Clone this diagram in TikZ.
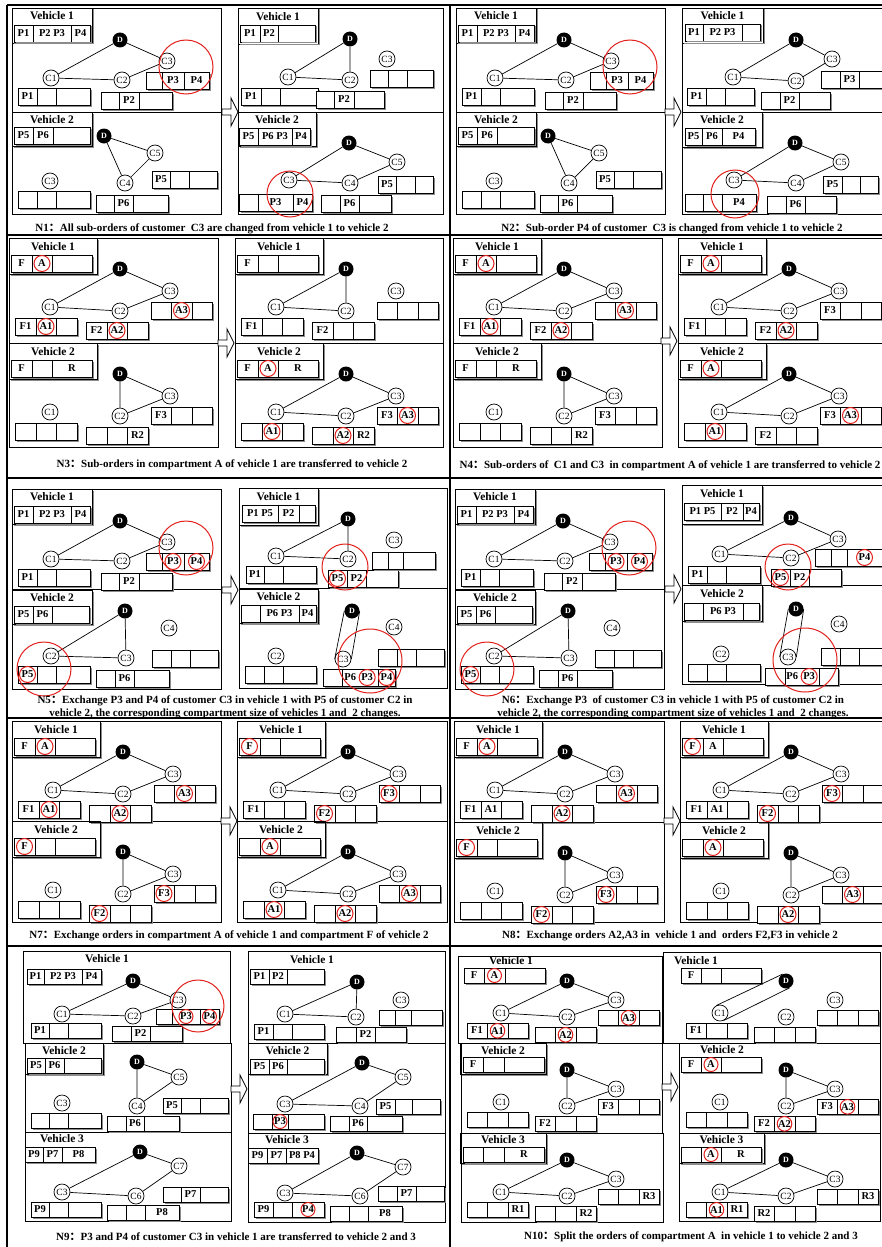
\documentclass[tikz,border=0pt]{standalone}
\usepackage{fontspec}
\setmainfont{Liberation Serif}
\newfontfamily\cjk{Noto Sans CJK SC}
\definecolor{MarkRed}{HTML}{E3211C}
\definecolor{ShadeGray}{HTML}{8C8C8C}

% red ring round one order label
\newcommand\hitlbl[1]{\tikz[baseline=(h.base)]\node[hit] (h) {#1};}
% three compartments: x, y, three widths, three labels
\newcommand\obar[8]{%
  \node[cell,minimum width=#3pt,anchor=north west] (k1) at (#1,#2) {#6};
  \node[cell,minimum width=#4pt,anchor=north west] (k2) at (k1.north east) {#7};
  \node[cell,minimum width=#5pt,anchor=north west] (k3) at (k2.north east) {#8};
  \draw[edgeshade] ([shift={(1pt,-1.5pt)}]k3.north east) -- ([shift={(1pt,-1pt)}]k3.south east) -- ([shift={(1.5pt,-1pt)}]k1.south west);}
\newcommand\vtitle[3]{%
  \draw[vframe] (0,0) rectangle (#2,#3);
  \draw[edgeshade] (#2+1,1.5) -- (#2+1,#3+1) -- (1.5,#3+1);
  \node[vname] (vt) at (#2/2,#3*0.23) {Vehicle #1};}
\newcommand\ftitle[2]{\vtitle{#1}{88}{36}\obar{2}{17}{21}{20}{40}#2}
% compartment layout, two vehicles per state
\newcommand\flay[5]{#1
  \node[depot] (d) at (111,31) {D};
  \node[cust] (c1) at (41,69) {C1};
  \node[cust] (c2) at (111,73) {C2};
  \node[cust] (c3) at (161,53) {C3};
  \obar{6}{80}{21}{20}{21}#2
  \obar{77}{84}{21}{20}{21}#3
  \obar{142}{64}{20}{21}{20}#4
  \draw[route] #5;}
% compartment layout, three vehicles per state
\newcommand\flayc[5]{#1
  \node[depot] (d) at (107,27) {D};
  \node[cust] (c1) at (41,59) {C1};
  \node[cust] (c2) at (107,63) {C2};
  \node[cust] (c3) at (156,46) {C3};
  \obar{7}{69}{20}{21}{20}#2
  \obar{75}{73}{20}{21}{20}#3
  \obar{138}{56}{20}{21}{20}#4
  \draw[route] #5;}
\newcommand\pvone[2]{%
  \vtitle{1}{80}{35}
  \obar{2}{17}{19}{38}{19}{P1}{P2 P3}{P4}
  \node[depot] (d) at (108,32) {D};
  \node[cust] (c1) at (39,70) {C1};
  \node[cust] (c2) at (110,72) {C2};
  \node[cust] (c3) at (155,53) {C3};
  \obar{6}{80}{19}{19}{34}{P1}{}{}
  \obar{89}{84}{18}{20}{33}{}{P2}{}
  \obar{134}{64}{16}{22}{25}{}{#1}{#2}
  \draw[route] (d)--(c1)--(c2)--(c3)--(d);
  \draw[hot] (174,59) circle (27);}
\newcommand\stateOne{%
  \draw[vframe] (12,8) rectangle (221,214) (12,112) -- (221,112);
  \begin{scope}[shift={(12,8)}]\pvone{P3}{P4}\end{scope}
  \begin{scope}[shift={(12,112)}]
    \vtitle{2}{80}{34}
    \obar{2}{15}{19}{20}{37}{P5}{P6}{}
    \node[depot] (d) at (92,24) {D};
    \node[cust] (c3) at (38,69) {C3};
    \node[cust] (c4) at (113,71) {C4};
    \node[cust] (c5) at (143,41) {C5};
    \obar{6}{79}{19}{19}{34}{}{}{}
    \obar{84}{83}{18}{19}{35}{}{P6}{}
    \obar{140}{59}{18}{19}{28}{P5}{}{}
    \draw[route] (d)--(c4)--(c5)--(d);
  \end{scope}}
\newcommand\stateThree{%
  \draw[vframe] (9,238) rectangle (218,447) (9,343) -- (218,343);
  \begin{scope}[shift={(9,238)}]
    \flay{\ftitle{1}{{F}{\hitlbl{A}}{}}}{{F1}{\hitlbl{A1}}{}}{{F2}{\hitlbl{A2}}{}}{{}{\hitlbl{A3}}{}}{(d)--(c1)--(c2)--(c3)--(d)}
  \end{scope}
  \begin{scope}[shift={(9,343)}]
    \flay{\ftitle{2}{{F}{}{R}}}{{}{}{}}{{}{}{R2}}{{F3}{}{}}{(d)--(c2)--(c3)--(d)}
  \end{scope}}
\newcommand\stateFive{%
  \draw[vframe] (12,489) rectangle (221,689) (12,589) -- (221,589);
  \begin{scope}[shift={(12,489)}]\pvone{\hitlbl{P3}}{\hitlbl{P4}}\end{scope}
  \begin{scope}[shift={(12,590)}]
    \vtitle{2}{80}{34}
    \obar{2}{16}{19}{19}{37}{P5}{P6}{}
    \node[depot] (d) at (113,21) {D};
    \node[cust] (c2) at (39,66) {C2};
    \node[cust] (c3) at (114,68) {C3};
    \node[cust] (c4) at (157,38) {C4};
    \obar{6}{76}{19}{19}{34}{\hitlbl{P5}}{}{}
    \obar{84}{80}{19}{19}{35}{}{P6}{}
    \obar{140}{60}{19}{19}{28}{}{}{}
    \draw[route] (d)--(c2)--(c3)--(d);
    \draw[hot] (32,79) circle (27);
  \end{scope}}
\newcommand\blockarrow[2]{\draw[blockarr] (#1,#2-3) -- (#1+9,#2-3) -- (#1+9,#2-14) -- (#1+16,#2) -- (#1+9,#2+14) -- (#1+9,#2+3) -- (#1,#2+3) -- cycle;}

\begin{document}
\begin{tikzpicture}[x=1pt,y=-1pt]
  \tikzset{frame/.style={line width=1.6pt},
    vframe/.style={draw,line width=0.9pt},
    edgeshade/.style={draw=ShadeGray,line width=1pt},
    cell/.style={draw,fill=white,line width=0.8pt,minimum height=17pt,inner sep=0pt,outer sep=0pt,font=\bfseries\fontsize{10.5}{10.5}\selectfont},
    cust/.style={circle,draw,fill=white,line width=0.7pt,minimum size=16pt,inner sep=0pt,font=\fontsize{9.5}{9.5}\selectfont},
    depot/.style={circle,fill=black,minimum size=15pt,inner sep=0pt,text=white,font=\bfseries\fontsize{8}{8}\selectfont},
    hit/.style={circle,draw=MarkRed,fill=none,line width=1pt,minimum size=16pt,inner sep=0pt,anchor=center},
    hot/.style={draw=MarkRed,line width=1pt},
    route/.style={line width=0.7pt},
    vname/.style={font=\bfseries\fontsize{11.5}{12}\selectfont},
    capt/.style={font=\bfseries\fontsize{11}{13}\selectfont,align=center},
    blockarr/.style={draw,fill=white,line width=0.8pt}}
  \useasboundingbox (0,0) rectangle (882,1247);
  \fill[white] (0,0) rectangle (882,1247);
  \clip (0,0) rectangle (882,1247);
  \draw[frame] (7,5) -- (882,5) (7,235) -- (882,235) (7,478) -- (882,478) (7,718) -- (882,718) (7,946) -- (882,946)
    (7,5) -- (7,1247) (450,5) -- (450,1247);

  % N1 and N2
  \stateOne
  \begin{scope}[shift={(444,0)}]\stateOne\end{scope}
  \draw[vframe] (238,8) rectangle (443,214) (238,112) -- (443,112);
  \begin{scope}[shift={(238,8)}]
    \vtitle{1}{80}{36}
    \obar{2}{17}{20}{18}{37}{P1}{P2}{}
    \node[depot] (d) at (112,31) {D};
    \node[cust] (c1) at (50,69) {C1};
    \node[cust] (c2) at (112,72) {C2};
    \node[cust] (c3) at (149,51) {C3};
    \obar{3}{80}{20}{19}{38}{P1}{}{}
    \obar{78}{83}{18}{20}{30}{}{P2}{}
    \obar{132}{62}{18}{19}{26}{}{}{}
    \draw[route] (d)--(c1)--(c2)--(d);
  \end{scope}
  \begin{scope}[shift={(238,112)}]
    \vtitle{2}{78}{34}
    \obar{1}{16}{19}{34}{18}{P5}{P6 P3}{P4}
    \node[depot] (d) at (111,31) {D};
    \node[cust] (c3) at (51,68) {C3};
    \node[cust] (c4) at (112,71) {C4};
    \node[cust] (c5) at (159,50) {C5};
    \obar{1}{82}{19}{35}{19}{}{P3}{P4}
    \obar{83}{83}{19}{19}{32}{}{P6}{}
    \obar{140}{64}{18}{19}{18}{P5}{}{}
    \draw[route] (d)--(c3)--(c4)--(c5)--(d);
    \draw[hot] (52,82) circle (23);
  \end{scope}
  \draw[vframe] (682,8) rectangle (900,214) (682,112) -- (900,112);
  \begin{scope}[shift={(682,8)}]
    \vtitle{1}{81}{35}
    \obar{3}{16}{18}{39}{18}{P1}{P2 P3}{}
    \node[depot] (d) at (114,32) {D};
    \node[cust] (c1) at (51,69) {C1};
    \node[cust] (c2) at (114,73) {C2};
    \node[cust] (c3) at (150,51) {C3};
    \obar{5}{80}{19}{19}{29}{P1}{}{}
    \obar{79}{84}{19}{19}{31}{}{P2}{}
    \obar{139}{63}{19}{19}{30}{}{P3}{}
    \draw[route] (d)--(c1)--(c2)--(c3)--(d);
  \end{scope}
  \begin{scope}[shift={(682,112)}]
    \vtitle{2}{80}{35}
    \obar{3}{16}{17}{20}{33}{P5}{P6}{P4}
    \node[depot] (d) at (113,31) {D};
    \node[cust] (c3) at (52,68) {C3};
    \node[cust] (c4) at (114,71) {C4};
    \node[cust] (c5) at (159,50) {C5};
    \obar{3}{82}{18}{19}{34}{}{}{P4}
    \obar{85}{84}{19}{19}{31}{}{P6}{}
    \obar{141}{64}{19}{18}{18}{P5}{}{}
    \draw[route] (d)--(c3)--(c4)--(c5)--(d);
    \draw[hot] (53,82) circle (24);
  \end{scope}

  % N3 and N4
  \stateThree
  \begin{scope}[shift={(444,0)}]\stateThree\end{scope}
  \draw[vframe] (235,238) rectangle (443,447) (235,343) -- (443,343);
  \begin{scope}[shift={(235,238)}]
    \flay{\ftitle{1}{{F}{}{}}}{{F1}{}{}}{{F2}{}{}}{{}{}{}}{(d)--(c1)--(c2)--(d)}
  \end{scope}
  \begin{scope}[shift={(235,343)}]
    \flay{\ftitle{2}{{F}{\hitlbl{A}}{R}}}{{}{\hitlbl{A1}}{}}{{}{\hitlbl{A2}}{R2}}{{F3}{\hitlbl{A3}}{}}{(d)--(c1)--(c2)--(c3)--(d)}
  \end{scope}
  \draw[vframe] (678,238) rectangle (900,447) (678,343) -- (900,343);
  \begin{scope}[shift={(678,238)}]
    \flay{\ftitle{1}{{F}{\hitlbl{A}}{}}}{{F1}{}{}}{{F2}{\hitlbl{A2}}{}}{{F3}{}{}}{(d)--(c1)--(c2)--(c3)--(d)}
  \end{scope}
  \begin{scope}[shift={(678,343)}]
    \flay{\ftitle{2}{{F}{\hitlbl{A}}{}}}{{}{\hitlbl{A1}}{}}{{F2}{}{}}{{F3}{\hitlbl{A3}}{}}{(d)--(c1)--(c2)--(c3)--(d)}
  \end{scope}

  % N5 and N6
  \stateFive
  \begin{scope}[shift={(443,0)}]\stateFive\end{scope}
  \draw[vframe] (239,488) rectangle (447,688) (239,588) -- (447,588);
  \begin{scope}[shift={(239,488)}]
    \vtitle{1}{79}{37}
    \obar{3}{17}{36}{21}{16}{P1 P5}{P2}{}
    \node[depot] (d) at (109,31) {D};
    \node[cust] (c1) at (37,68) {C1};
    \node[cust] (c2) at (109,71) {C2};
    \node[cust] (c3) at (155,52) {C3};
    \obar{7}{78}{18}{19}{33}{P1}{}{}
    \obar{89}{82}{19}{19}{32}{\hitlbl{P5}}{P2}{}
    \obar{133}{64}{16}{15}{32}{}{}{}
    \draw[route] (d)--(c1)--(c2)--(d);
    \draw[hot] (106,79) circle (23);
  \end{scope}
  \begin{scope}[shift={(239,589)}]
    \vtitle{2}{79}{34}
    \obar{2}{16}{19}{39}{17}{}{P6 P3}{P4}
    \node[depot] (d) at (113,22) {D};
    \node[cust] (c2) at (37,67) {C2};
    \node[cust] (c3) at (104,70) {C3};
    \node[cust] (c4) at (155,38) {C4};
    \obar{6}{77}{19}{19}{33}{}{}{}
    \obar{84}{80}{19}{36}{17}{}{P6 \hitlbl{P3}}{\hitlbl{P4}}
    \obar{139}{60}{19}{19}{28}{}{}{}
    \draw[route] (d.west)--(c3.west) (d.east)--(c3.east);
    \draw[hot] (131,72) circle (32);
  \end{scope}
  \draw[vframe] (682,485) rectangle (900,684) (682,585) -- (900,585);
  \begin{scope}[shift={(682,485)}]
    \vtitle{1}{80}{39}
    \obar{2}{18}{37}{22}{16}{P1 P5}{P2}{P4}
    \node[depot] (d) at (109,33) {D};
    \node[cust] (c1) at (38,69) {C1};
    \node[cust] (c2) at (109,73) {C2};
    \node[cust] (c3) at (156,54) {C3};
    \obar{6}{81}{19}{19}{34}{P1}{}{}
    \obar{89}{84}{19}{19}{32}{\hitlbl{P5}}{P2}{}
    \obar{133}{64}{16}{16}{35}{}{}{\hitlbl{P4}}
    \draw[route] (d)--(c1)--(c2)--(c3)--(d);
    \draw[hot] (106,82) circle (23);
  \end{scope}
  \begin{scope}[shift={(682,585)}]
    \vtitle{2}{80}{36}
    \obar{2}{18}{19}{40}{16}{}{P6 P3}{}
    \node[depot] (d) at (114,24) {D};
    \node[cust] (c2) at (39,69) {C2};
    \node[cust] (c3) at (106,72) {C3};
    \node[cust] (c4) at (157,39) {C4};
    \obar{6}{79}{19}{19}{34}{}{}{}
    \obar{83}{83}{20}{34}{19}{}{P6 \hitlbl{P3}}{}
    \obar{139}{63}{19}{19}{35}{}{}{}
    \draw[route] (d.west)--(c3.west) (d.east)--(c3.east);
    \draw[hot] (123,75) circle (32);
  \end{scope}

  % N7 and N8
  \draw[vframe] (12,721) rectangle (221,922) (12,821) -- (221,821);
  \begin{scope}[shift={(12,721)}]
    \flay{\ftitle{1}{{F}{\hitlbl{A}}{}}}{{F1}{\hitlbl{A1}}{}}{{}{\hitlbl{A2}}{}}{{}{\hitlbl{A3}}{}}{(d)--(c1)--(c2)--(c3)--(d)}
  \end{scope}
  \begin{scope}[shift={(12,821)}]
    \flay{\ftitle{2}{{\hitlbl{F}}{}{}}}{{}{}{}}{{\hitlbl{F2}}{}{}}{{\hitlbl{F3}}{}{}}{(d)--(c2)--(c3)--(d)}
  \end{scope}
  \draw[vframe] (237,721) rectangle (447,922) (237,821) -- (447,821);
  \begin{scope}[shift={(237,721)}]
    \flay{\ftitle{1}{{\hitlbl{F}}{}{}}}{{F1}{}{}}{{\hitlbl{F2}}{}{}}{{\hitlbl{F3}}{}{}}{(d)--(c1)--(c2)--(c3)--(d)}
  \end{scope}
  \begin{scope}[shift={(237,821)}]
    \flay{\ftitle{2}{{}{\hitlbl{A}}{}}}{{}{\hitlbl{A1}}{}}{{}{\hitlbl{A2}}{}}{{}{\hitlbl{A3}}{}}{(d)--(c1)--(c2)--(c3)--(d)}
  \end{scope}
  \draw[vframe] (454,721) rectangle (664,922) (454,822) -- (664,822);
  \begin{scope}[shift={(454,721)}]
    \flay{\ftitle{1}{{F}{\hitlbl{A}}{}}}{{F1}{A1}{}}{{}{\hitlbl{A2}}{}}{{}{\hitlbl{A3}}{}}{(d)--(c1)--(c2)--(c3)--(d)}
  \end{scope}
  \begin{scope}[shift={(454,822)}]
    \flay{\ftitle{2}{{\hitlbl{F}}{}{}}}{{}{}{}}{{\hitlbl{F2}}{}{}}{{\hitlbl{F3}}{}{}}{(d)--(c2)--(c3)--(d)}
  \end{scope}
  \draw[vframe] (680,721) rectangle (900,922) (680,822) -- (900,822);
  \begin{scope}[shift={(680,721)}]
    \flay{\ftitle{1}{{\hitlbl{F}}{A}{}}}{{F1}{A1}{}}{{\hitlbl{F2}}{}{}}{{\hitlbl{F3}}{}{}}{(d)--(c1)--(c2)--(c3)--(d)}
  \end{scope}
  \begin{scope}[shift={(680,822)}]
    \flay{\ftitle{2}{{}{\hitlbl{A}}{}}}{{}{}{}}{{}{\hitlbl{A2}}{}}{{}{\hitlbl{A3}}{}}{(d)--(c2)--(c3)--(d)}
  \end{scope}

  % N9 and N10, three vehicles
  \begin{scope}[cell/.append style={minimum height=15pt},hit/.append style={minimum size=14pt}]
    \draw[vframe] (23,951) rectangle (230,1043) (25,1043) rectangle (231,1132) (25,1132) rectangle (231,1221);
    \begin{scope}[shift={(23,951)}]
      \node[vname] (vt) at (84,8) {Vehicle 1};
      \obar{4}{18}{17}{38}{19}{P1}{P2 P3}{P4}
      \node[depot] (d) at (110,30) {D};
      \node[cust] (c1) at (39,63) {C1};
      \node[cust] (c2) at (110,65) {C2};
      \node[cust] (c3) at (155,49) {C3};
      \obar{8}{72}{18}{19}{33}{P1}{}{}
      \obar{89}{75}{19}{19}{32}{}{P2}{}
      \obar{133}{58}{16}{28}{19}{}{\hitlbl{P3}}{\hitlbl{P4}}
      \draw[route] (d)--(c1)--(c2)--(c3)--(d);
      \draw[hot] (175,55) circle (26);
    \end{scope}
    \begin{scope}[shift={(25,1043)}]
      \vtitle{2}{78}{31}
      \obar{2}{15}{18}{19}{37}{P5}{P6}{}
      \node[depot] (d) at (112,19) {D};
      \node[cust] (c3) at (37,60) {C3};
      \node[cust] (c4) at (112,63) {C4};
      \node[cust] (c5) at (154,34) {C5};
      \obar{6}{70}{18}{19}{33}{}{}{}
      \obar{82}{73}{19}{18}{35}{}{P6}{}
      \obar{138}{55}{18}{19}{28}{P5}{}{}
      \draw[route] (d)--(c4)--(c5)--(d);
    \end{scope}
    \begin{scope}[shift={(25,1132)}]
      \node[vname] (vt) at (37,7) {Vehicle 3};
      \obar{0}{15}{18}{19}{33}{P9}{P7}{P8}
      \node[depot] (d) at (115,20) {D};
      \node[cust] (c3) at (37,60) {C3};
      \node[cust] (c6) at (111,64) {C6};
      \node[cust] (c7) at (154,34) {C7};
      \obar{6}{70}{18}{19}{33}{P9}{}{}
      \obar{82}{73}{19}{19}{34}{}{}{P8}
      \obar{138}{55}{18}{19}{28}{}{P7}{}
      \draw[route] (d)--(c3)--(c6)--(c7)--(d);
    \end{scope}
    \draw[vframe] (248,951) rectangle (445,1222) (248,1043) -- (445,1043) (248,1133) -- (445,1133);
    \begin{scope}[shift={(248,951)}]
      \node[vname] (vt) at (64,9) {Vehicle 1};
      \obar{2}{18}{19}{18}{37}{P1}{P2}{}
      \node[depot] (d) at (109,31) {D};
      \node[cust] (c1) at (37,63) {C1};
      \node[cust] (c2) at (108,66) {C2};
      \node[cust] (c3) at (153,49) {C3};
      \obar{6}{73}{19}{19}{32}{P1}{}{}
      \obar{88}{76}{20}{19}{31}{}{P2}{}
      \obar{131}{59}{16}{16}{31}{}{}{}
      \draw[route] (d)--(c1)--(c2)--(d);
    \end{scope}
    \begin{scope}[shift={(248,1043)}]
      \vtitle{2}{79}{31}
      \obar{2}{16}{19}{18}{37}{P5}{P6}{}
      \node[depot] (d) at (114,20) {D};
      \node[cust] (c3) at (37,61) {C3};
      \node[cust] (c4) at (112,63) {C4};
      \node[cust] (c5) at (155,34) {C5};
      \obar{5}{71}{19}{16}{36}{}{\hitlbl{P3}}{}
      \obar{82}{73}{19}{18}{35}{}{P6}{}
      \obar{128}{56}{19}{17}{28}{P5}{}{}
      \draw[route] (d)--(c3)--(c4)--(c5)--(d);
    \end{scope}
    \begin{scope}[shift={(248,1133)}]
      \node[vname] (vt) at (39,7) {Vehicle 3};
      \obar{0}{15}{19}{19}{32}{P9}{P7}{P8 P4}
      \node[depot] (d) at (109,20) {D};
      \node[cust] (c3) at (37,60) {C3};
      \node[cust] (c6) at (112,63) {C6};
      \node[cust] (c7) at (155,34) {C7};
      \obar{6}{69}{19}{19}{32}{P9}{}{\hitlbl{P4}}
      \obar{82}{73}{19}{19}{34}{}{}{P8}
      \obar{130}{53}{19}{19}{28}{}{P7}{}
      \draw[route] (d)--(c3)--(c6)--(c7)--(d);
    \end{scope}

    \draw[vframe] (458,956) rectangle (662,1043) (461,1043) rectangle (662,1133) (461,1133) rectangle (663,1222);
    \begin{scope}[shift={(460,954)}]
      \flayc{\node[vname] (vt) at (51,7) {Vehicle 1}; \obar{4}{14}{20}{21}{40}{F}{\hitlbl{A}}{}}{{F1}{\hitlbl{A1}}{}}{{}{\hitlbl{A2}}{}}{{}{\hitlbl{A3}}{}}{(d)--(c1)--(c2)--(c3)--(d)}
    \end{scope}
    \begin{scope}[shift={(460,1043)}]
      \flayc{\vtitle{2}{86}{31}\obar{3}{14}{20}{21}{40}{F}{}{}}{{}{}{}}{{F2}{}{}}{{F3}{}{}}{(d)--(c2)--(c3)--(d)}
    \end{scope}
    \begin{scope}[shift={(460,1133)}]
      \flayc{\vtitle{3}{86}{30}\obar{3}{14}{20}{21}{40}{}{}{R}}{{}{}{R1}}{{}{}{R2}}{{}{}{R3}}{(d)--(c1)--(c2)--(c3)--(d)}
    \end{scope}
    \draw[vframe] (663,952) rectangle (880,1043) (679,1043) rectangle (880,1133) (679,1133) rectangle (880,1221);
    \begin{scope}[shift={(679,954)}]
      \flayc{\node[vname] (vt) at (17,7) {Vehicle 1}; \obar{2}{14}{20}{20}{40}{F}{}{}}{{F1}{}{}}{{}{}{}}{{}{}{}}{(d.116)--(c1.116) (d.-64)--(c1.-64)}
    \end{scope}
    \begin{scope}[shift={(679,1043)}]
      \flayc{\node[vname] (vt) at (43,7) {Vehicle 2}; \obar{2}{14}{20}{20}{40}{F}{\hitlbl{A}}{}}{{}{}{}}{{F2}{\hitlbl{A2}}{}}{{F3}{\hitlbl{A3}}{}}{(d)--(c2)--(c3)--(d)}
    \end{scope}
    \begin{scope}[shift={(679,1133)}]
      \flayc{\vtitle{3}{85}{30}\obar{2}{14}{20}{20}{40}{}{\hitlbl{A}}{R}}{{}{\hitlbl{A1}}{R1}}{{R2}{}{}}{{}{}{R3}}{(d)--(c1)--(c2)--(c3)--(d)}
    \end{scope}
  \end{scope}

  % arrows between the two states
  \blockarrow{222}{112} \blockarrow{665}{112}
  \blockarrow{218}{343} \blockarrow{661}{341}
  \blockarrow{222}{590} \blockarrow{665}{589}
  \blockarrow{221}{821} \blockarrow{664}{821}
  \blockarrow{231}{1089} \blockarrow{662}{1087}

  % captions
  \node[capt] (cap1) at (212,229) {N1{\cjk ：}All sub-orders of customer\ \ C3 are changed from vehicle 1 to vehicle 2};
  \node[capt] (cap2) at (672,229) {N2{\cjk ：}Sub-order P4 of customer\ \ C3 is changed from vehicle 1 to vehicle 2};
  \node[capt] (cap3) at (232,465) {N3{\cjk ：}Sub-orders in compartment A of vehicle 1 are transferred to vehicle 2};
  \node[capt] (cap4) at (670,466) {N4{\cjk ：}Sub-orders of\ \ C1 and C3\ \ in compartment A of vehicle 1 are transferred to vehicle 2};
  \node[capt] (cap5) at (225,707) {N5{\cjk ：}Exchange P3 and P4 of customer C3 in vehicle 1 with P5 of customer C2 in\\vehicle 2, the corresponding compartment size of vehicles 1 and\ \ 2 changes.};
  \node[capt] (cap6) at (673,707) {N6{\cjk ：}Exchange P3\ \ of customer C3 in vehicle 1 with P5 of customer C2 in\\vehicle 2, the corresponding compartment size of vehicles 1 and\ \ 2 changes.};
  \node[capt] (cap7) at (229,936) {N7{\cjk ：}Exchange orders in compartment A of vehicle 1 and compartment F of vehicle 2};
  \node[capt] (cap8) at (670,936) {N8{\cjk ：}Exchange orders A2,A3 in\ \ vehicle 1 and\ \ orders F2,F3 in vehicle 2};
  \node[capt] (cap9) at (236,1237) {N9{\cjk ：}P3 and P4 of customer C3 in vehicle 1 are transferred to vehicle 2 and 3};
  \node[capt] (cap10) at (691,1237) {N10{\cjk ：}Split the orders of compartment A\ \ in vehicle 1 to vehicle 2 and 3};
\end{tikzpicture}
\end{document}
